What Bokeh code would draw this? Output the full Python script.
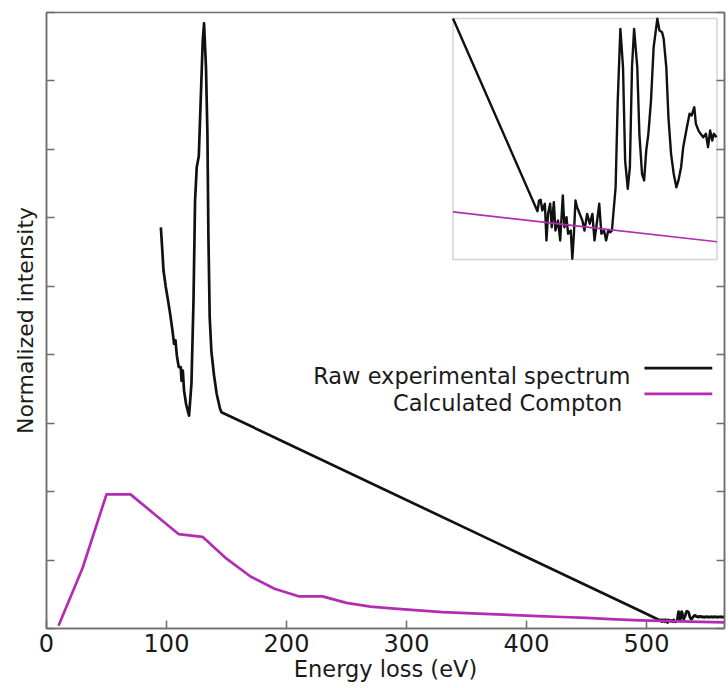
from bokeh.plotting import figure
from bokeh.models import Range1d, LinearAxis, FixedTicker, BoxAnnotation, Label, Arrow
from bokeh.embed import file_html
from bokeh.resources import INLINE

# ---------------- data ----------------
x_ticks = [0, 100, 200, 300, 400, 500]
y_ticks = [0, 1, 2, 3, 4, 5, 6, 7, 8, 9]

# Raw experimental spectrum: energy loss (eV) / normalized intensity
raw_energy = [
    95.3, 96.7, 97.5, 99.4, 101.3, 103.0, 105.0, 106.3, 107.5, 108.6, 110.2, 111.9,
    112.5, 113.6, 114.6, 116.3, 118.8, 120.8, 122.5, 123.8, 125.2, 126.9, 128.5,
    130.2, 131.3, 132.9, 134.1, 134.9, 136.0, 137.4, 139.6, 141.8, 144.6, 145.8,
    495.0, 511.0,
    511.3, 511.6, 511.9, 512.4, 512.7, 513.0, 513.4, 513.7, 514.1, 514.4, 514.9,
    515.3, 515.8, 516.1, 516.5, 516.8, 517.3, 517.6, 517.9, 518.2, 518.5, 519.0,
    519.5, 519.9, 520.4, 520.9, 521.4, 521.8, 522.3, 522.7, 523.1, 523.6, 524.0,
    524.4, 524.8, 525.1,
    525.8, 526.2, 526.7, 527.2, 527.6, 528.1, 528.5, 528.9, 529.3, 529.9, 530.3,
    530.8, 531.2, 531.6, 532.0, 532.5, 533.0, 533.7, 534.1, 534.6, 534.9, 535.4,
    535.8, 536.3, 536.8, 537.3, 537.7, 538.2, 538.6, 539.3, 539.8, 540.2, 540.7,
    541.0, 541.5, 541.9, 542.4, 542.9, 543.3, 543.7, 544.1, 544.4, 544.9,
    545.4, 545.9, 546.4, 546.9, 547.5, 548.0, 548.6, 549.2, 549.8, 550.4, 551.0,
    551.7, 552.3, 553.0, 553.7, 554.4, 555.1, 555.8, 556.5, 557.3, 558.0, 558.8,
    559.6, 560.4, 561.2, 562.0, 562.8, 563.6, 564.4, 565.2,
]
raw_intensity = [
    5.86, 5.47, 5.23, 4.99, 4.79, 4.60, 4.35, 4.16, 4.21, 3.99, 3.82, 3.82,
    3.62, 3.77, 3.48, 3.28, 3.11, 3.58, 4.79, 6.25, 6.74, 6.90, 7.71,
    8.59, 8.84, 8.20, 7.23, 5.77, 4.55, 4.05, 3.70, 3.43, 3.21, 3.16,
    0.255, 0.1195,
    0.127, 0.1275, 0.120, 0.1247, 0.0989, 0.1176, 0.1247, 0.1082, 0.1258, 0.1059, 0.1129,
    0.0989, 0.1305, 0.1082, 0.1152, 0.1036, 0.1059, 0.0860, 0.1036, 0.1270, 0.1223, 0.1176,
    0.1129, 0.1059, 0.1176, 0.1106, 0.1176, 0.0989, 0.1129, 0.1247, 0.1036, 0.1059, 0.0989,
    0.1059, 0.1047, 0.1059,
    0.1363, 0.1973, 0.2477, 0.2207, 0.1551, 0.1352, 0.1504, 0.2207, 0.2477, 0.2207, 0.1739,
    0.1458, 0.1411, 0.1622, 0.1739, 0.1973, 0.2348, 0.2548, 0.2465, 0.2453, 0.2407, 0.2207,
    0.1856, 0.1598, 0.1458, 0.1363, 0.1411, 0.1504, 0.1645, 0.1785, 0.1880, 0.1868, 0.1926,
    0.1809, 0.1762, 0.1739, 0.1715, 0.1739, 0.1645, 0.1762, 0.1692, 0.1739, 0.1715,
    0.176, 0.168, 0.173, 0.165, 0.171, 0.162, 0.170, 0.166, 0.175, 0.168, 0.172,
    0.163, 0.170, 0.167, 0.174, 0.166, 0.171, 0.164, 0.169, 0.175, 0.166, 0.170,
    0.163, 0.171, 0.167, 0.173, 0.165, 0.170, 0.166, 0.169,
]

# Calculated Compton profile
compton_energy = [10, 30, 50, 70, 90, 110, 130, 150, 170, 190, 210, 230, 250, 270,
                  290, 310, 330, 350, 370, 390, 410, 430, 450, 470, 495, 520, 545, 565]
compton_intensity = [0.04, 0.88, 1.96, 1.96, 1.67, 1.38, 1.34, 1.02, 0.76, 0.58, 0.47,
                     0.47, 0.375, 0.32, 0.29, 0.265, 0.24, 0.225, 0.21, 0.195, 0.18,
                     0.168, 0.155, 0.137, 0.119, 0.1085, 0.098, 0.09]

# inset window (data units)
inset_x_window = [495.0, 545.0]
inset_y_window = [0.0855, 0.255]

series_names = ["Raw experimental spectrum", "Calculated Compton"]

# ---------------- layout / style ----------------
W, H = 728, 688
FL, FR, FT, FB = 46, 724, 12, 628          # frame edges (px)
IL, IR, IT, IB = 452.5, 716.5, 18, 259     # inset box edges (px)

AX = "#6e6e6e"
TXT = "#1a1a1a"
BLACK = "#111111"
MAGENTA = "#b32db3"
FONT = "DejaVu Sans"

p = figure(width=W, height=H, output_backend="svg", toolbar_location=None,
           x_range=Range1d(0, 565), y_range=Range1d(0, 9),
           min_border_left=FL, min_border_right=W - FR,
           min_border_top=FT, min_border_bottom=H - FB,
           background_fill_color="white", border_fill_color="white")
p.xgrid.visible = False
p.ygrid.visible = False
p.outline_line_color = AX
p.outline_line_width = 1.5

def style_axis(ax):
    ax.axis_line_color = AX
    ax.axis_line_width = 1.5
    ax.major_tick_line_color = AX
    ax.major_tick_line_width = 1.5
    ax.major_tick_in = 8
    ax.major_tick_out = 0
    ax.minor_tick_line_color = None

xa = p.xaxis[0]
style_axis(xa)
xa.ticker = FixedTicker(ticks=x_ticks)
xa.axis_label = "Energy loss (eV)"
xa.axis_label_text_font = FONT
xa.axis_label_text_font_size = "22.5px"
xa.axis_label_text_font_style = "normal"
xa.axis_label_text_color = TXT
xa.axis_label_standoff = 1
xa.major_label_text_font = FONT
xa.major_label_text_font_size = "24px"
xa.major_label_text_color = TXT
xa.major_label_standoff = 5

ya = p.yaxis[0]
style_axis(ya)
ya.ticker = FixedTicker(ticks=y_ticks)
ya.major_label_overrides = {t: "" for t in y_ticks}
ya.major_label_standoff = 0
ya.axis_label = "Normalized intensity"
ya.axis_label_text_font = FONT
ya.axis_label_text_font_size = "22px"
ya.axis_label_text_font_style = "normal"
ya.axis_label_text_color = TXT
ya.axis_label_standoff = 9

ra = LinearAxis(ticker=FixedTicker(ticks=y_ticks))
style_axis(ra)
ra.major_label_overrides = {t: "" for t in y_ticks}
ra.major_label_standoff = 0
p.add_layout(ra, "right")

# ---------------- main curves ----------------
p.line(raw_energy, raw_intensity, line_color=BLACK, line_width=2.7, line_join="round")
p.line(compton_energy, compton_intensity, line_color=MAGENTA, line_width=2.7, line_join="round")

# ---------------- inset (own scales mapped onto the inset box) ----------------
x0, x1 = inset_x_window
y0, y1 = inset_y_window
sx = (IR - IL) / (x1 - x0)
sy = (IB - IT) / (y1 - y0)
p.extra_x_ranges = {"inset_x": Range1d(x0 - (IL - FL) / sx, x1 + (FR - IR) / sx)}
p.extra_y_ranges = {"inset_y": Range1d(y0 - (FB - IB) / sy, y1 + (IT - FT) / sy)}

ins_raw = [(e, v) for e, v in zip(raw_energy, raw_intensity) if x0 <= e <= x1]
ins_cmp = [(e, v) for e, v in zip(compton_energy, compton_intensity) if x0 <= e <= x1]

p.add_layout(BoxAnnotation(left=x0, right=x1, bottom=y0, top=y1,
                           x_range_name="inset_x", y_range_name="inset_y",
                           fill_color="white", fill_alpha=1.0,
                           line_color=AX, line_width=1.5, level="underlay"))
p.line([e for e, _ in ins_raw], [v for _, v in ins_raw], line_color=BLACK, line_width=2.4,
       line_join="round", x_range_name="inset_x", y_range_name="inset_y")
p.line([e for e, _ in ins_cmp], [v for _, v in ins_cmp], line_color=MAGENTA, line_width=1.7,
       x_range_name="inset_x", y_range_name="inset_y")

# ---------------- key (text right-aligned, sample on the right) ----------------
key_text_x = [486.7, 479.7]
key_text_y = [3.682, 3.292]
key_line_y = [3.803, 3.429]
key_line_x = [498.3, 554.8]
for name, tx, ty, ly, col in zip(series_names, key_text_x, key_text_y, key_line_y, [BLACK, MAGENTA]):
    p.add_layout(Label(x=tx, y=ty, text=name, text_align="right", text_baseline="alphabetic",
                       text_font=FONT, text_font_size="22.5px", text_color=TXT))
    p.add_layout(Arrow(end=None, x_start=key_line_x[0], y_start=ly, x_end=key_line_x[1], y_end=ly,
                       line_color=col, line_width=2.7))

open("out.html", "w").write(file_html(p, INLINE))
